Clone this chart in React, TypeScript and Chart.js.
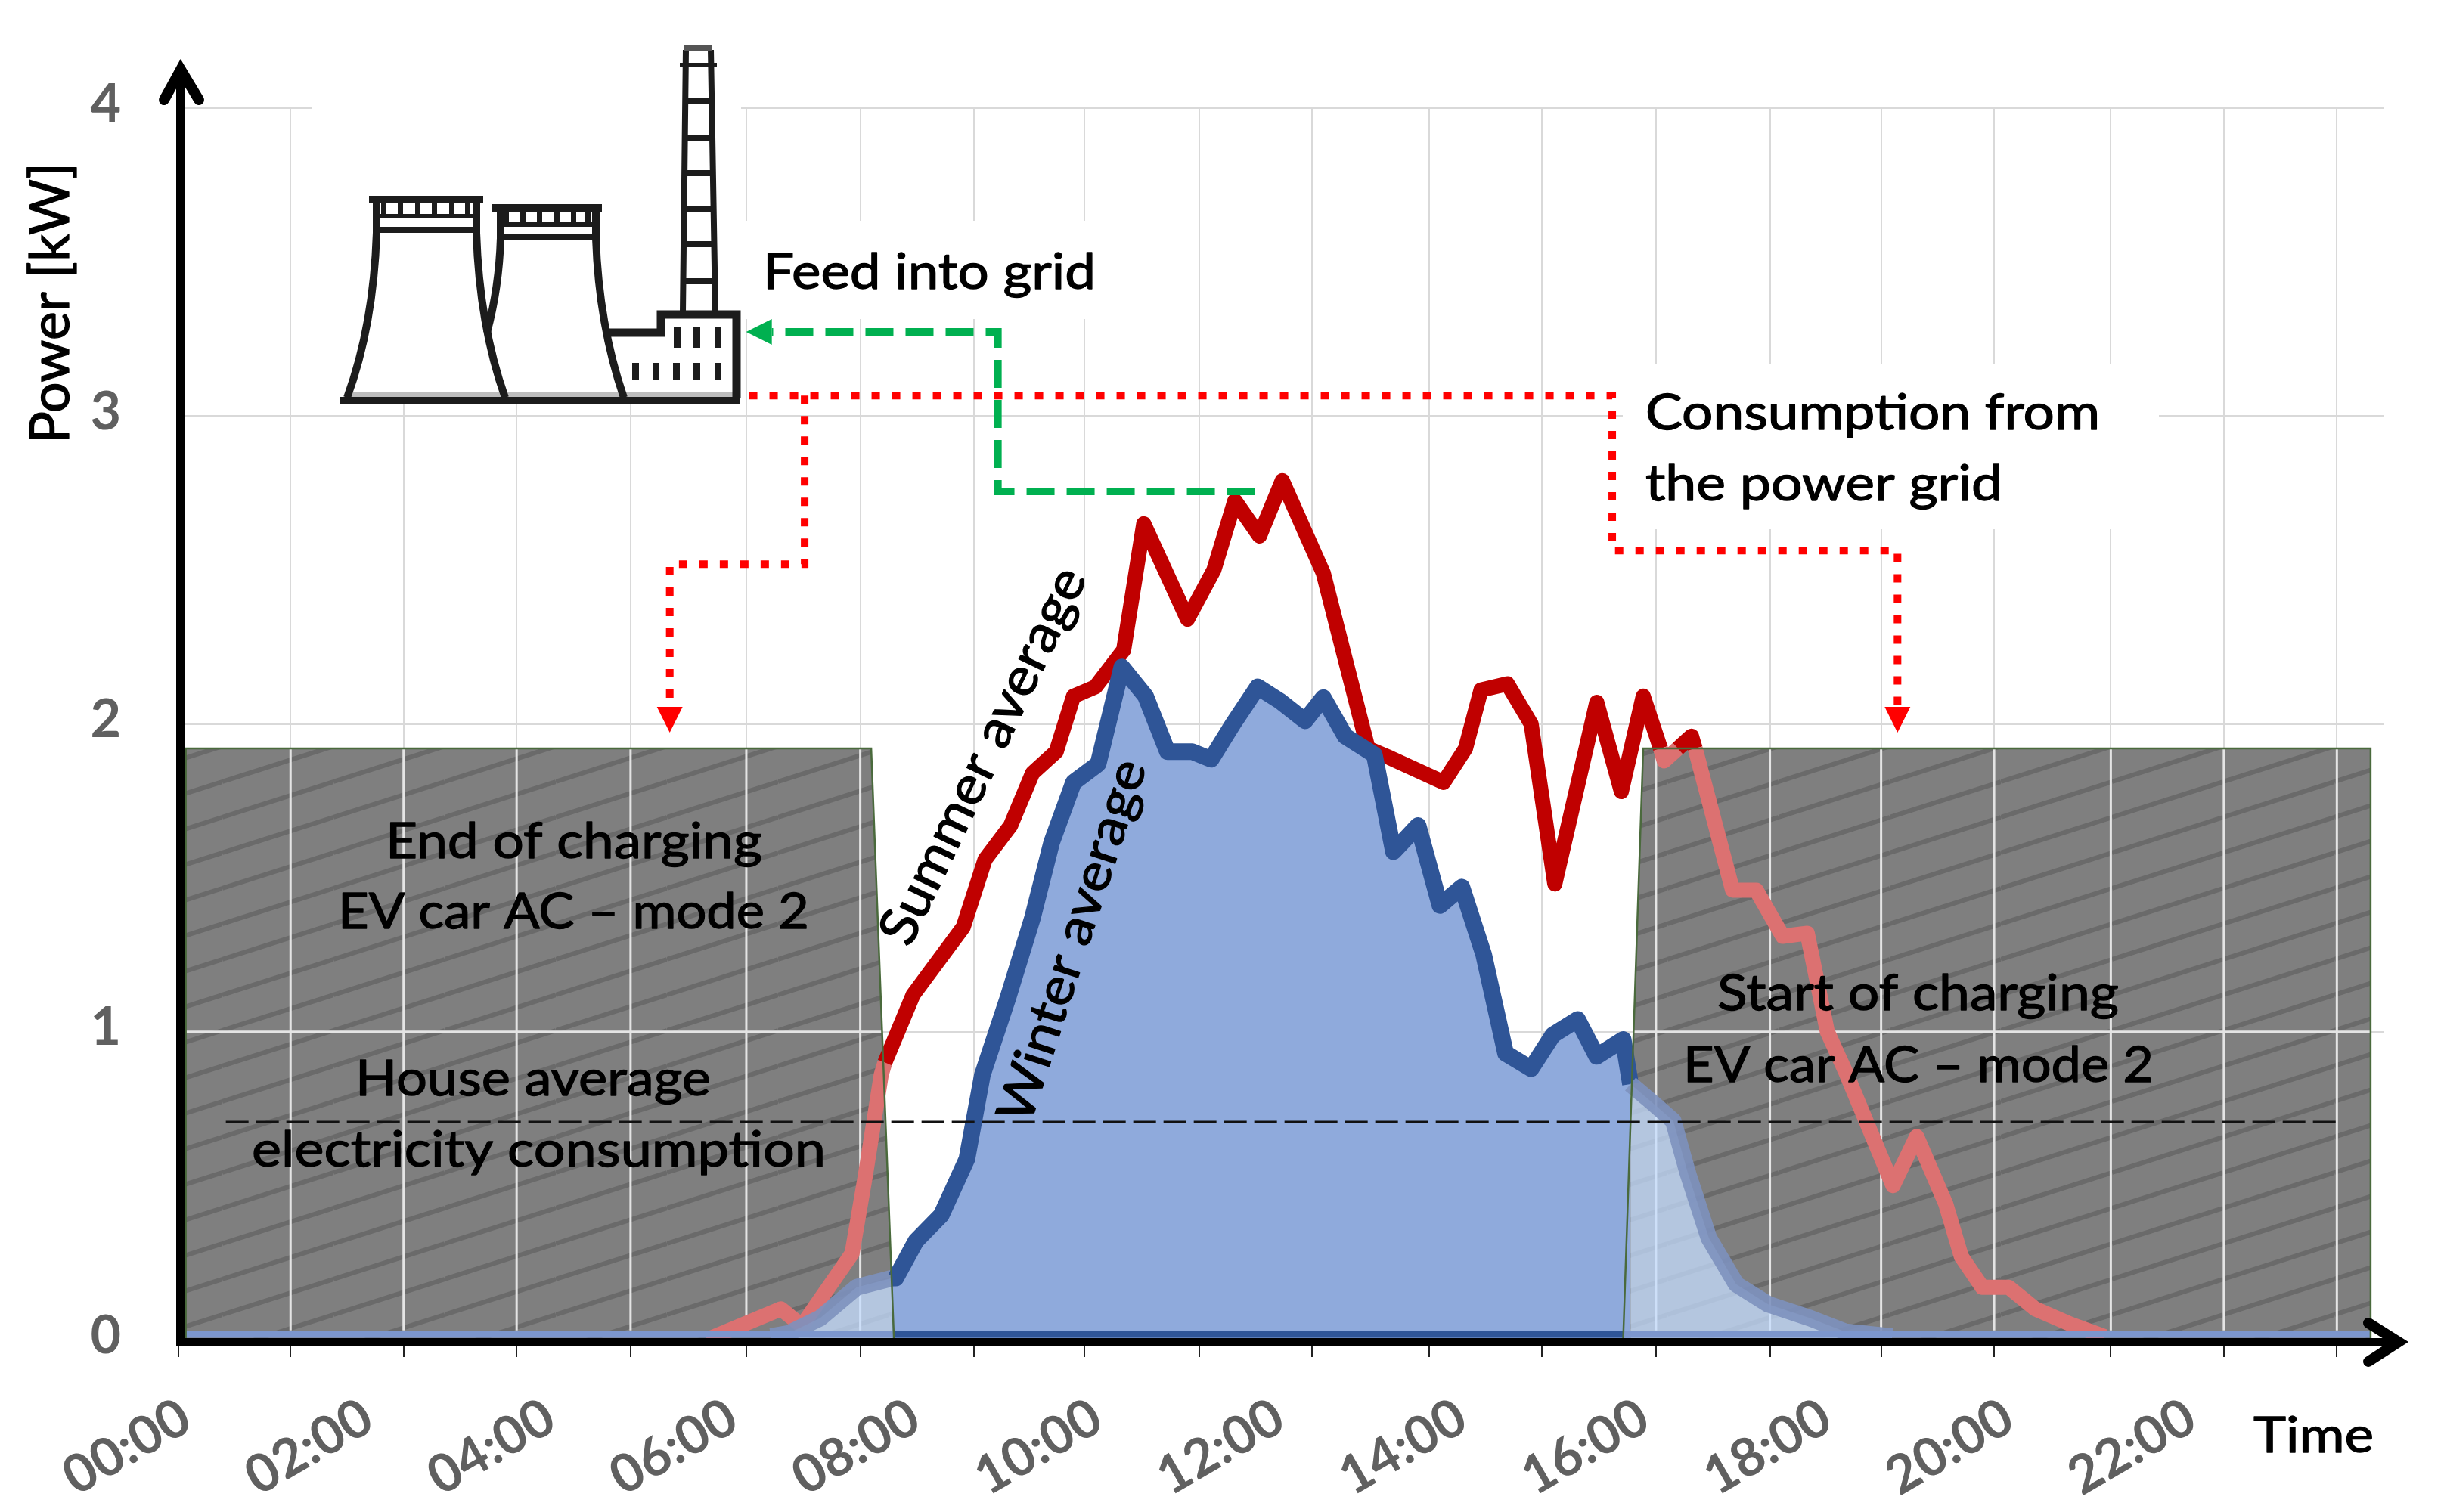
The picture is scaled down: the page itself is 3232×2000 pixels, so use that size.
import React, { useEffect, useRef } from "react";
import { Chart, registerables } from "chart.js";
Chart.register(...registerables);

const summerHours = [5.8, 5.96, 6.61, 6.84, 7.39, 7.54, 7.71, 7.75, 8.06, 8.61, 8.85, 9.13, 9.37, 9.63, 9.82, 10.06, 10.37, 10.59, 11.07, 11.36, 11.59, 11.86, 12.11, 12.56, 13.05, 13.29, 13.88, 14.12, 14.29, 14.58, 14.84, 15.1, 15.56, 15.83, 16.07, 16.26, 16.3, 16.45, 16.6, 16.64, 17.05, 17.31, 17.6, 17.87, 18.09, 18.29, 18.81, 19.07, 19.39, 19.56, 19.79, 20.08, 20.37, 20.76, 21.13];
const summerKw = [0.0, 0.02, 0.10, 0.045, 0.28, 0.54, 0.86, 0.9, 1.12, 1.34, 1.56, 1.67, 1.84, 1.91, 2.09, 2.12, 2.24, 2.65, 2.34, 2.50, 2.725, 2.61, 2.79, 2.49, 1.92, 1.89, 1.81, 1.92, 2.11, 2.13, 2.0, 1.48, 2.07, 1.78, 2.09, 1.92, 1.88, 1.92, 1.96, 1.92, 1.46, 1.46, 1.31, 1.32, 1.0, 0.87, 0.5, 0.66, 0.44, 0.27, 0.17, 0.17, 0.1, 0.05, 0.01];

const winterHours = [6.5, 6.69, 7.04, 7.44, 7.83, 7.87, 8.09, 8.37, 8.65, 8.82, 9.1, 9.37, 9.58, 9.82, 10.09, 10.35, 10.61, 10.85, 11.12, 11.33, 11.57, 11.84, 12.08, 12.36, 12.56, 12.8, 13.12, 13.33, 13.6, 13.84, 14.08, 14.32, 14.56, 14.84, 15.08, 15.35, 15.56, 15.85, 15.93, 16.17, 16.4, 16.56, 16.79, 17.09, 17.44, 17.9, 18.29, 18.8];
const winterKw = [0.01, 0.02, 0.07, 0.17, 0.2, 0.2, 0.32, 0.405, 0.587, 0.86, 1.11, 1.37, 1.615, 1.81, 1.87, 2.185, 2.09, 1.91, 1.91, 1.885, 2.0, 2.12, 2.075, 2.01, 2.085, 1.96, 1.9, 1.585, 1.67, 1.41, 1.47, 1.25, 0.93, 0.88, 0.99, 1.04, 0.92, 0.975, 0.83, 0.77, 0.71, 0.54, 0.33, 0.18, 0.115, 0.07, 0.025, 0.01];

const stripHours = [0.08, 7.85, 15.85, 24.05];
const stripKw = [0.017, 0.017, 0.017, 0.017];

const bandHours = [0.08, 0.08, 7.6, 7.85, null, 15.85, 16.07, 24.05, 24.05];
const bandKw = [0, 1.92, 1.92, 0, null, 0, 1.92, 1.92, 0];

const houseHours = [0.52, 23.69];
const houseKw = [0.707, 0.707];

const greenHours = [11.81, 8.99, 8.99, 6.51];
const greenKw = [2.755, 2.755, 3.273, 3.273];
const redMainHours = [6.26, 15.73, 15.73, 18.86, 18.86];
const redMainKw = [3.066, 3.066, 2.563, 2.563, 2.055];
const redBranchHours = [6.87, 6.87, 5.39, 5.39];
const redBranchKw = [3.066, 2.519, 2.519, 2.055];

const gridHours = [0, 1.23, 2.47, 3.71, 4.96, 6.23, 7.48, 8.73, 9.94, 11.2, 12.44, 13.72, 14.96, 16.21, 17.46, 18.68, 19.92, 21.2, 22.44, 23.68];
const labelHours = [0, 2, 4, 6, 8, 10, 12, 14, 16, 18, 20, 22];
const timeLabels = ["00:00", "02:00", "04:00", "06:00", "08:00", "10:00", "12:00", "14:00", "16:00", "18:00", "20:00", "22:00"];
const powerTicks = [0, 1, 2, 3, 4];

const leftEdge = 7.75;
const rightEdge = 15.93;
const bandTop = 1.92;

const xy = (xs: (number | null)[], ys: (number | null)[]) => xs.map((x, i) => ({ x, y: ys[i] }));

function stripePattern(): CanvasPattern | string {
  const c = document.createElement("canvas");
  c.width = 147;
  c.height = 47;
  const g = c.getContext("2d");
  if (!g) return "#7f7f7f";
  g.fillStyle = "#7f7f7f";
  g.fillRect(0, 0, 147, 47);
  g.strokeStyle = "#6a6a6a";
  g.lineWidth = 6;
  for (let k = -1; k <= 1; k++) {
    g.beginPath();
    g.moveTo(0, 47 * (k + 1));
    g.lineTo(147, 47 * k);
    g.stroke();
  }
  return g.createPattern(c, "repeat") || "#7f7f7f";
}

function fit(ctx: CanvasRenderingContext2D, t: string, x: number, y: number, w: number, size: number, rot = 0) {
  ctx.save();
  ctx.font = `${size}px Lato`;
  ctx.fillStyle = "#000";
  ctx.strokeStyle = "#000";
  ctx.lineWidth = 1.3;
  ctx.lineJoin = "round";
  ctx.textAlign = "left";
  ctx.textBaseline = "alphabetic";
  const m = ctx.measureText(t).width;
  ctx.translate(x, y);
  ctx.rotate(rot);
  ctx.scale(w / m, 1);
  ctx.fillText(t, 0, 0);
  ctx.strokeText(t, 0, 0);
  ctx.restore();
}

function chevron(ctx: CanvasRenderingContext2D, pts: number[][]) {
  ctx.save();
  ctx.strokeStyle = "#000";
  ctx.fillStyle = "#000";
  ctx.lineWidth = 14;
  ctx.lineCap = "round";
  ctx.lineJoin = "miter";
  ctx.miterLimit = 6;
  ctx.beginPath();
  ctx.moveTo(pts[0][0], pts[0][1]);
  ctx.lineTo(pts[1][0], pts[1][1]);
  ctx.lineTo(pts[2][0], pts[2][1]);
  ctx.stroke();
  ctx.restore();
}

function drawPlant(ctx: CanvasRenderingContext2D) {
  ctx.save();
  const ink = "#1c1c1c";
  ctx.strokeStyle = ink;
  ctx.fillStyle = ink;
  ctx.lineJoin = "miter";
  // ground
  ctx.fillStyle = "#bdbdbd";
  ctx.fillRect(462, 518, 510, 8);
  ctx.fillStyle = ink;
  ctx.fillRect(449, 525, 530, 10);
  // tower one
  ctx.fillRect(488, 259, 151, 10);
  ctx.lineWidth = 10;
  ctx.beginPath();
  ctx.moveTo(498, 268);
  ctx.lineTo(498, 308);
  ctx.quadraticCurveTo(494, 430, 459, 526);
  ctx.moveTo(630, 268);
  ctx.lineTo(630, 308);
  ctx.quadraticCurveTo(634, 430, 668, 526);
  ctx.stroke();
  ctx.fillRect(498, 283, 132, 6);
  ctx.fillRect(498, 300, 132, 8);
  for (const x of [506, 528, 551, 573, 596, 617]) ctx.fillRect(x - 2, 268, 7, 15);
  // tower two
  ctx.fillRect(650, 270, 146, 10);
  ctx.beginPath();
  ctx.moveTo(662, 279);
  ctx.lineTo(662, 315);
  ctx.quadraticCurveTo(660, 380, 644, 440);
  ctx.moveTo(788, 279);
  ctx.lineTo(788, 315);
  ctx.quadraticCurveTo(792, 430, 825, 526);
  ctx.stroke();
  ctx.fillRect(662, 294, 126, 6);
  ctx.fillRect(662, 309, 126, 8);
  for (const x of [668, 690, 712, 735, 757, 776]) ctx.fillRect(x - 2, 279, 7, 15);
  // building
  ctx.lineWidth = 11;
  ctx.beginPath();
  ctx.moveTo(803, 440);
  ctx.lineTo(874, 440);
  ctx.lineTo(874, 416);
  ctx.lineTo(974, 416);
  ctx.lineTo(974, 526);
  ctx.stroke();
  for (const x of [895, 921, 949]) ctx.fillRect(x - 4, 433, 9, 27);
  for (const x of [840, 867, 894, 921, 949]) ctx.fillRect(x - 4, 480, 9, 22);
  // chimney
  ctx.lineWidth = 8;
  ctx.beginPath();
  ctx.moveTo(903, 412);
  ctx.lineTo(907, 66);
  ctx.moveTo(946, 412);
  ctx.lineTo(940, 66);
  ctx.stroke();
  ctx.fillStyle = "#555";
  ctx.fillRect(905, 60, 36, 8);
  ctx.fillStyle = ink;
  ctx.fillRect(899, 83, 49, 6);
  for (const y of [129, 179, 225, 272, 319, 368]) ctx.fillRect(903, y, 43, 8);
  ctx.restore();
}

const decor = {
  id: "decor",
  beforeDraw(chart: any) {
    const { ctx, width, height } = chart;
    ctx.save();
    ctx.fillStyle = "#fff";
    ctx.fillRect(0, 0, width, height);
    ctx.restore();
  },
  beforeDatasetsDraw(chart: any) {
    const { ctx } = chart;
    ctx.save();
    ctx.fillStyle = "#fff";
    ctx.fillRect(412, 0, 568, 527);
    ctx.fillRect(980, 292, 500, 130);
    ctx.fillRect(2146, 482, 709, 218);
    ctx.restore();
  },
  afterDatasetDraw(chart: any, args: any) {
    if (args.index !== 0) return;
    const { ctx, scales } = chart;
    const x = scales.x;
    const y = scales.y;
    ctx.save();
    ctx.beginPath();
    let pen = false;
    bandHours.forEach((h, i) => {
      if (h === null) {
        ctx.closePath();
        pen = false;
        return;
      }
      const px = x.getPixelForValue(h);
      const py = y.getPixelForValue(bandKw[i] as number);
      if (pen) ctx.lineTo(px, py);
      else ctx.moveTo(px, py);
      pen = true;
    });
    ctx.closePath();
    ctx.clip();
    ctx.strokeStyle = "#e4e4e4";
    ctx.lineWidth = 3;
    ctx.beginPath();
    for (const h of gridHours) {
      const px = x.getPixelForValue(h);
      ctx.moveTo(px, y.getPixelForValue(2));
      ctx.lineTo(px, y.getPixelForValue(0.03));
    }
    const py1 = y.getPixelForValue(1);
    ctx.moveTo(x.left, py1);
    ctx.lineTo(x.right, py1);
    ctx.stroke();
    ctx.restore();
  },
  afterDatasetsDraw(chart: any) {
    const { ctx, scales } = chart;
    const x = scales.x;
    const y = scales.y;
    const y0 = y.getPixelForValue(0) + 3;
    const xL = x.getPixelForValue(0) + 3;
    ctx.save();
    ctx.fillStyle = "#000";
    ctx.fillRect(xL - 6, 90, 12, y0 - 90 + 5);
    ctx.fillRect(xL - 6, y0 - 5, 3178 - xL, 10);
    chevron(ctx, [[217, 132], [xL, 92], [263, 132]]);
    chevron(ctx, [[3132, 1750], [3172, y0], [3132, 1801]]);
    ctx.restore();

    // arrow heads at the ends of the connector series
    const head = (hx: number, ky: number, dx: number, dy: number, color: string) => {
      const px = x.getPixelForValue(hx);
      const py = y.getPixelForValue(ky);
      ctx.save();
      ctx.fillStyle = color;
      ctx.beginPath();
      ctx.moveTo(px + dx * 34, py + dy * 34);
      ctx.lineTo(px - dy * 17, py + dx * 17);
      ctx.lineTo(px + dy * 17, py - dx * 17);
      ctx.closePath();
      ctx.fill();
      ctx.restore();
    };
    head(greenHours[3], greenKw[3], -1, 0, "#00b050");
    head(redMainHours[4], redMainKw[4], 0, 1, "#ff0000");
    head(redBranchHours[3], redBranchKw[3], 0, 1, "#ff0000");

    drawPlant(ctx);

    fit(ctx, "Power [kW]", 91, 587, 372, 72, -Math.PI / 2);
    fit(ctx, "Feed into grid", 1009, 382, 440, 66);
    fit(ctx, "Consumption from", 2176, 568, 601, 66);
    fit(ctx, "the power grid", 2176, 662, 472, 66);
    fit(ctx, "End of charging", 510, 1135, 498, 66);
    fit(ctx, "EV car AC – mode 2", 447, 1228, 623, 66);
    fit(ctx, "House average", 470, 1449, 470, 66);
    fit(ctx, "electricity consumption", 333, 1543, 759, 66);
    fit(ctx, "Start of charging", 2271, 1336, 531, 66);
    fit(ctx, "EV car AC – mode 2", 2226, 1431, 622, 66);
    fit(ctx, "Time", 2980, 1921, 159, 66);
    fit(ctx, "Summer average", 1203, 1255, 544, 70, -(64.4 * Math.PI) / 180);
    fit(ctx, "Winter average", 1362, 1489, 500, 68, -(72 * Math.PI) / 180);
  },
};

export default function App() {
  const ref = useRef<HTMLCanvasElement | null>(null);
  useEffect(() => {
    if (!ref.current) return;
    const line = {
      pointRadius: 0,
      pointHoverRadius: 0,
      tension: 0,
      fill: false,
      spanGaps: false,
    };
    const summerInBand = (c: any) => {
      const a = c.p0.parsed;
      const b = c.p1.parsed;
      if (b.x <= leftEdge) return true;
      return a.x >= 16 && (a.y + b.y) / 2 <= bandTop;
    };
    const winterInBand = (c: any) => c.p1.parsed.x <= leftEdge + 0.09 || c.p0.parsed.x >= rightEdge;
    const stripInBand = (c: any) => c.p1.parsed.x <= 7.85 || c.p0.parsed.x >= 15.85;
    const chart = new Chart(ref.current, {
      type: "line",
      data: {
        datasets: [
          { ...line, label: "Charging", data: xy(bandHours, bandKw), order: 10, borderWidth: 0, fill: "origin", backgroundColor: stripePattern() },
          {
            ...line,
            label: "Summer average",
            data: xy(summerHours, summerKw),
            order: 8,
            borderWidth: 20,
            borderColor: "#c00000",
            borderJoinStyle: "round",
            segment: { borderColor: (c: any) => (summerInBand(c) ? "#dc7171" : undefined) },
          },
          {
            ...line,
            label: "Winter average",
            data: xy(winterHours, winterKw),
            order: 7,
            borderWidth: 22,
            borderColor: "#2f5597",
            backgroundColor: "#8faadc",
            fill: "origin",
            borderJoinStyle: "round",
            segment: {
              borderColor: (c: any) => (winterInBand(c) ? "rgba(125,145,190,0.9)" : undefined),
              backgroundColor: (c: any) => (winterInBand(c) ? "rgba(197,221,255,0.75)" : undefined),
            },
          },
          {
            ...line,
            label: "Baseline",
            data: xy(stripHours, stripKw),
            order: 6.5,
            borderWidth: 9,
            borderColor: "#2f5597",
            segment: { borderColor: (c: any) => (stripInBand(c) ? "#7c96cd" : undefined) },
          },
          { ...line, label: "Charging outline", data: xy(bandHours, bandKw), order: 6, borderWidth: 2.5, borderColor: "#4a6a3c" },
          { ...line, label: "House average", data: xy(houseHours, houseKw), order: 3, borderWidth: 3, borderColor: "#111", borderDash: [30, 10] },
          { ...line, label: "Feed into grid", data: xy(greenHours, greenKw), order: 5, borderWidth: 10, borderColor: "#00b050", borderDash: [37, 16] },
          { ...line, label: "Consumption", data: xy(redMainHours, redMainKw), order: 4, borderWidth: 10, borderColor: "#ff0000", borderDash: [11, 16] },
          { ...line, label: "Consumption branch", data: xy(redBranchHours, redBranchKw), order: 4, borderWidth: 10, borderColor: "#ff0000", borderDash: [11, 16] },
        ],
      } as any,
      options: {
        animation: false,
        responsive: false,
        devicePixelRatio: 1,
        parsing: { xAxisKey: "x", yAxisKey: "y" } as any,
        layout: { padding: { top: 143, right: 79, left: 0, bottom: 0 } },
        events: [],
        plugins: { legend: { display: false }, tooltip: { enabled: false }, title: { display: false } },
        scales: {
          x: {
            type: "linear",
            position: "bottom",
            weight: 0,
            min: 0,
            max: 24.2,
            afterBuildTicks(s: any) {
              s.ticks = gridHours.map((value) => ({ value }));
            },
            afterFit(s: any) {
              s.height = 23;
            },
            ticks: { display: false, autoSkip: false },
            border: { display: false },
            grid: { color: "#d9d9d9", lineWidth: 2, tickColor: "#222", tickWidth: 2, tickLength: 23 },
          },
          xl: {
            type: "linear",
            position: "bottom",
            weight: 1,
            min: 0,
            max: 24.2,
            afterBuildTicks(s: any) {
              s.ticks = labelHours.map((value) => ({ value }));
            },
            afterFit(s: any) {
              s.height = 205;
            },
            border: { display: false },
            grid: { display: false, drawTicks: false },
            ticks: {
              autoSkip: false,
              maxRotation: 30,
              minRotation: 30,
              padding: 38,
              labelOffset: 10,
              color: "#606060",
              font: { family: "Lato", size: 70, weight: "bold" },
              callback: (_v: any, i: number) => timeLabels[i],
            },
          },
          y: {
            type: "linear",
            position: "left",
            min: 0,
            max: 4,
            afterBuildTicks(s: any) {
              s.ticks = powerTicks.map((value) => ({ value }));
            },
            afterFit(s: any) {
              s.width = 236;
            },
            border: { display: false },
            grid: { color: "#d9d9d9", lineWidth: 2, drawTicks: false },
            ticks: { padding: 76, labelOffset: -5, color: "#606060", font: { family: "Lato", size: 70, weight: "bold" } },
          },
        },
      },
      plugins: [decor],
    } as any);
    return () => chart.destroy();
  }, []);
  return <canvas ref={ref} width={3232} height={2000} style={{ position: "absolute", left: 0, top: 0, display: "block" }} />;
}
